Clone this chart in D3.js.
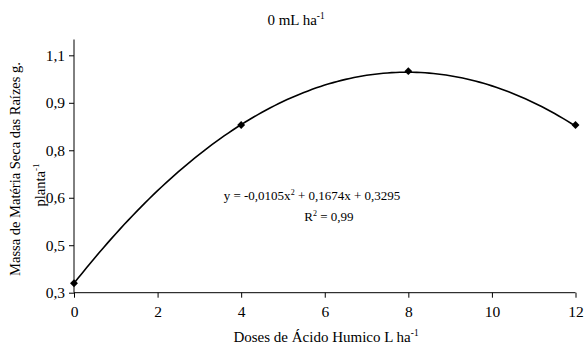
<!DOCTYPE html>
<html><head><meta charset="utf-8">
<script src="https://cdn.jsdelivr.net/npm/d3@7"></script>
<style>body{margin:0;background:#fff}svg text{font-family:"Liberation Serif","Times New Roman",serif;fill:#000}</style>
</head><body><svg id="c" width="586" height="344"></svg>
<script>
const doses = [0, 4, 8, 12];
const massa = [0.33, 0.83, 1.00, 0.83];
const xTicks = [0, 2, 4, 6, 8, 10, 12];
const yTicks = [0.3, 0.45, 0.6, 0.75, 0.9, 1.05];
const yTickLabels = ["0,3", "0,5", "0,6", "0,8", "0,9", "1,1"];
const coef = [-0.0105, 0.1674, 0.3295];
const title = "0 mL ha";
const eqLine = "y = -0,0105x";
const r2 = "0,99";

const svg = d3.select("#c");
const x = d3.scaleLinear().domain([0, 12]).range([74, 575.5]);
const y = d3.scaleLinear().domain([0.3, 1.1]).range([292.7, 39.5]);

const xa = svg.append("g").attr("transform", `translate(0,${y(0.3)})`)
  .call(d3.axisBottom(x).tickValues(xTicks).tickSize(5).tickPadding(8).tickFormat(d3.format("d")));
const ya = svg.append("g").attr("transform", `translate(${x(0)},0)`)
  .call(d3.axisLeft(y).tickValues(yTicks).tickSize(5).tickPadding(4).tickFormat((d,i)=>yTickLabels[i]));
[xa, ya].forEach(a => {
  a.attr("font-family", null);
  a.select(".domain").remove();
  a.selectAll("line").attr("stroke", "#000");
  a.selectAll("text").style("font-size", "15.5px");
});
svg.append("line").attr("x1", x(0)).attr("x2", x(12)).attr("y1", y(0.3)).attr("y2", y(0.3)).attr("stroke", "#000");
svg.append("line").attr("x1", x(0)).attr("x2", x(0)).attr("y1", y(0.3)).attr("y2", y(1.1)).attr("stroke", "#000");

// trendline from its printed equation
const xs = d3.range(0, 12.001, 0.1);
svg.append("path")
  .attr("d", d3.line().x(d => x(d)).y(d => y(coef[0]*d*d + coef[1]*d + coef[2]))(xs))
  .attr("fill", "none").attr("stroke", "#000").attr("stroke-width", 1.6);

svg.selectAll(".pt").data(doses).enter().append("path")
  .attr("transform", (d, i) => `translate(${x(d)},${y(massa[i])})`)
  .attr("d", d3.symbol(d3.symbolDiamond2, 40)).attr("fill", "#000");

const sup = (t, main, s, fs) => { t.append("tspan").text(main); t.append("tspan").attr("dy", -fs*0.4).style("font-size", (fs*0.62)+"px").text(s); };

let t = svg.append("text").attr("x", 296).attr("y", 25).attr("text-anchor", "middle").style("font-size", "15px");
sup(t, title, "-1", 15);

t = svg.append("text").attr("x", 326).attr("y", 342).attr("text-anchor", "middle").style("font-size", "15px");
sup(t, "Doses de Ácido Humico L ha", "-1", 15);

svg.append("text").attr("transform", "translate(20,169) rotate(-90)").attr("text-anchor", "middle").style("font-size", "14.5px")
  .text("Massa de Matéria Seca das Raízes g.");
t = svg.append("text").attr("transform", "translate(45,185) rotate(-90)").attr("text-anchor", "middle").style("font-size", "14.5px");
sup(t, "planta", "-1", 14.5);

t = svg.append("text").attr("x", 312).attr("y", 200).attr("text-anchor", "middle").style("font-size", "13px");
t.append("tspan").text(eqLine);
t.append("tspan").attr("dy", -5).style("font-size", "8px").text("2");
t.append("tspan").attr("dy", 5).text(" + 0,1674x + 0,3295");
t = svg.append("text").attr("x", 329).attr("y", 221).attr("text-anchor", "middle").style("font-size", "13px");
t.append("tspan").text("R");
t.append("tspan").attr("dy", -5).style("font-size", "8px").text("2");
t.append("tspan").attr("dy", 5).text(" = " + r2);
</script></body></html>
